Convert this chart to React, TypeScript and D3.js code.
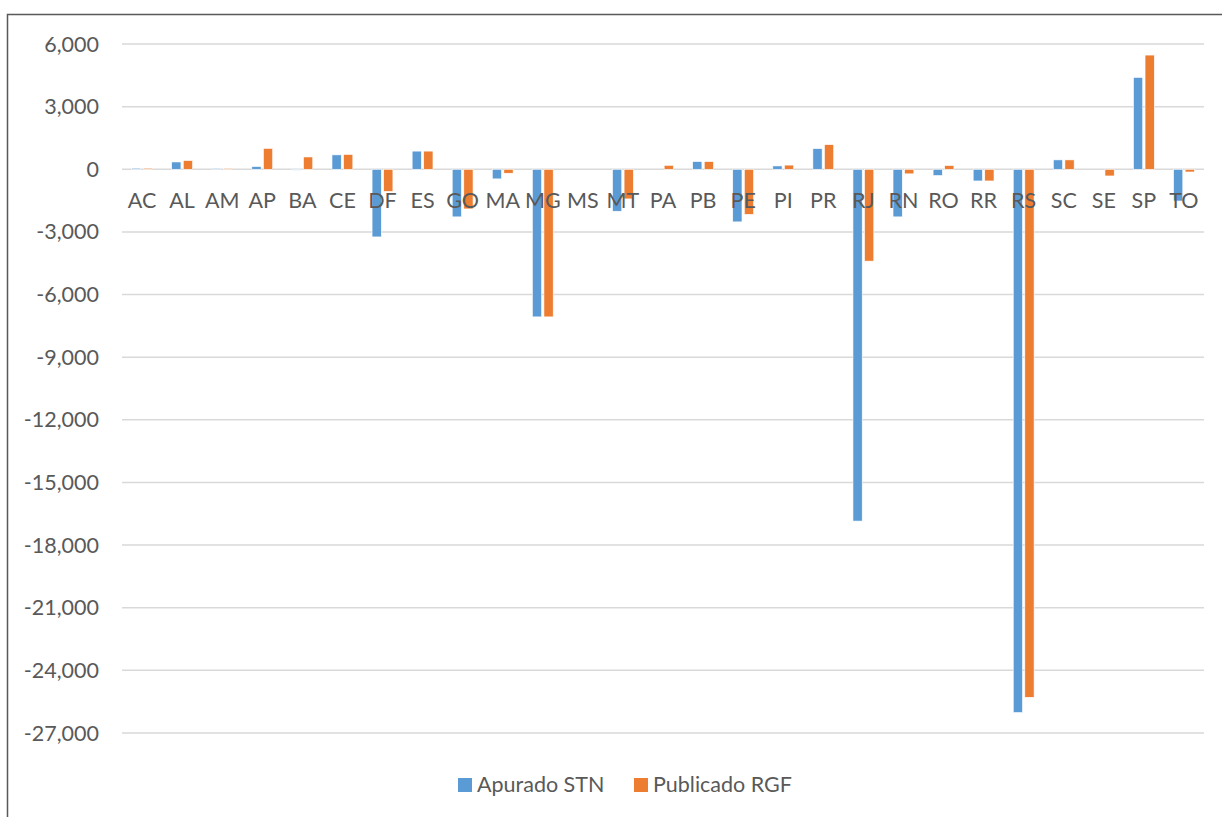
import React from "react";
import * as d3 from "d3";

const categories = ["AC","AL","AM","AP","BA","CE","DF","ES","GO","MA","MG","MS","MT","PA","PB","PE","PI","PR","RJ","RN","RO","RR","RS","SC","SE","SP","TO"];
const apuradoSTN = [50, 350, 40, 130, -40, 690, -3240, 870, -2280, -460, -7070, 0, -2010, 0, 370, -2520, 160, 990, -16850, -2280, -300, -560, -26020, 450, 0, 4400, -1520];
const publicadoRGF = [50, 420, 40, 1000, 590, 710, -1060, 870, -1900, -190, -7070, 0, -1420, 190, 370, -2160, 200, 1180, -4400, -220, 180, -560, -25290, 450, -320, 5470, -130];
const seriesNames = ["Apurado STN", "Publicado RGF"];
const seriesColors = ["#5B9BD5", "#ED7D31"];
const yTicks = [6000, 3000, 0, -3000, -6000, -9000, -12000, -15000, -18000, -21000, -24000, -27000];

export default function App() {
  const W = 1222, H = 817;
  const plotLeft = 122, plotRight = 1204, plotTop = 44, plotBottom = 733;
  const x0 = d3.scaleBand<string>().domain(categories).range([plotLeft, plotRight]).padding(0);
  const step = x0.bandwidth();
  const x1 = d3.scaleBand<string>().domain(seriesNames).range([step * 0.24, step * 0.76]).paddingInner(0.2);
  const y = d3.scaleLinear().domain([-27000, 6000]).range([plotBottom, plotTop]);
  const fmt = (v: number) => d3.format(",")(v).replace("\u2212", "-");
  const data = [apuradoSTN, publicadoRGF];
  const font = "Lato, 'Noto Sans', sans-serif";
  const textColor = "#595959";
  const fs = 21.5;

  return (
    <svg width={W} height={H} style={{ position: "absolute", left: 0, top: 0, background: "#fff" }}>
      <rect x={7.5} y={14.5} width={1400} height={1000} fill="#fff" stroke="#595959" strokeWidth={1.5} />
      {yTicks.map((t) => (
        <g key={t}>
          <line x1={plotLeft} x2={plotRight} y1={y(t)} y2={y(t)} stroke="#D9D9D9" strokeWidth={1.5} />
          <text x={99} y={y(t)} dy="0.35em" textAnchor="end" fontFamily={font} fontSize={fs} fill={textColor}>
            {fmt(t)}
          </text>
        </g>
      ))}
      {data.map((vals, si) =>
        categories.map((c, i) => {
          const v = vals[i];
          const bx = (x0(c) as number) + (x1(seriesNames[si]) as number);
          const y0 = y(0), yv = y(v);
          return (
            <rect
              key={si + "-" + c}
              x={bx}
              y={Math.min(y0, yv)}
              width={x1.bandwidth()}
              height={Math.abs(yv - y0)}
              fill={seriesColors[si]}
              stroke="#fff"
              strokeWidth={0.6}
            />
          );
        })
      )}
      {categories.map((c) => (
        <text key={c} x={(x0(c) as number) + step / 2} y={208} textAnchor="middle" fontFamily={font} fontSize={fs} fill={textColor}>
          {c}
        </text>
      ))}
      <g>
        <rect x={458} y={778} width={14} height={14} fill={seriesColors[0]} />
        <text x={477} y={792} fontFamily={font} fontSize={fs} fill={textColor}>{seriesNames[0]}</text>
        <rect x={634} y={778} width={14} height={14} fill={seriesColors[1]} />
        <text x={653} y={792} fontFamily={font} fontSize={fs} fill={textColor}>{seriesNames[1]}</text>
      </g>
    </svg>
  );
}
